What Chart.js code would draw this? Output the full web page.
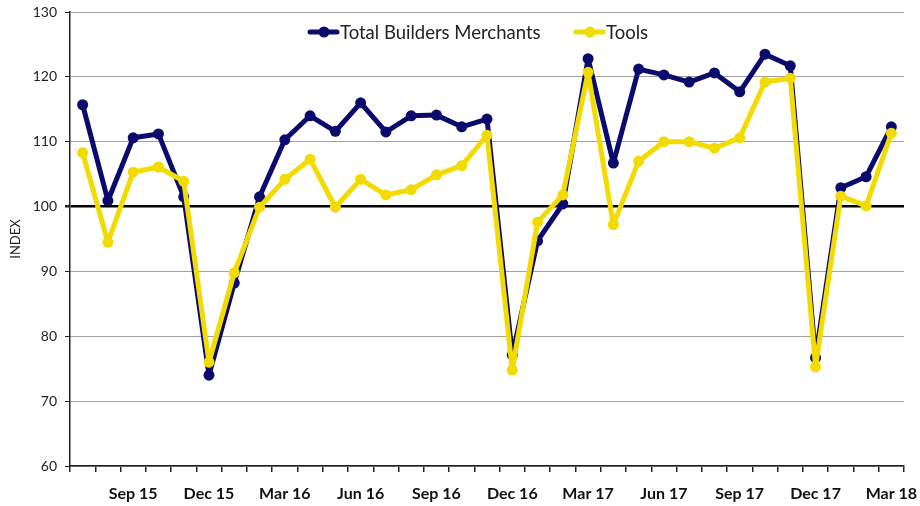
<!DOCTYPE html>
<html>
<head>
<meta charset="utf-8">
<script src="https://cdn.jsdelivr.net/npm/chart.js@4/dist/chart.umd.min.js"></script>
<style>
  html, body { margin: 0; padding: 0; background: #fff; }
  #wrap { width: 920px; height: 506px; }
</style>
</head>
<body>
<div id="wrap"><canvas id="chart" width="920" height="506"></canvas></div>
<script>
// months Jul 15 .. Mar 18
const months = ['Jul 15','Aug 15','Sep 15','Oct 15','Nov 15','Dec 15','Jan 16','Feb 16','Mar 16','Apr 16','May 16','Jun 16',
  'Jul 16','Aug 16','Sep 16','Oct 16','Nov 16','Dec 16','Jan 17','Feb 17','Mar 17','Apr 17','May 17','Jun 17',
  'Jul 17','Aug 17','Sep 17','Oct 17','Nov 17','Dec 17','Jan 18','Feb 18','Mar 18'];
const shownLabels = ['Sep 15','Dec 15','Mar 16','Jun 16','Sep 16','Dec 16','Mar 17','Jun 17','Sep 17','Dec 17','Mar 18'];
const totalBM = [115.7,100.9,110.6,111.2,101.5,74.0,88.2,101.5,110.3,114.0,111.6,116.0,
  111.5,114.0,114.1,112.3,113.5,77.1,94.7,100.4,122.8,106.7,121.2,120.3,
  119.2,120.6,117.7,123.5,121.7,76.7,102.9,104.6,112.3];
const tools = [108.3,94.5,105.3,106.1,103.9,76.0,89.8,99.9,104.2,107.3,99.9,104.2,
  101.8,102.6,104.9,106.3,111.0,74.8,97.6,101.8,120.7,97.2,107.0,110.0,
  110.0,109.0,110.6,119.2,119.8,75.3,101.6,100.1,111.3];
const yTicks = [60,70,80,90,100,110,120,130];

const NAVY = '#0b0b6e';
const YELLOW = '#f2dc00';
const FONT = 'Lato, "Open Sans", sans-serif';

// legend drawn inside the plot, line + dot like the spreadsheet original
const insideLegend = {
  id: 'insideLegend',
  afterDraw(chart) {
    const ctx = chart.ctx;
    const items = [
      { text: 'Total Builders Merchants', color: NAVY, x: 310 },
      { text: 'Tools', color: YELLOW, x: 576 }
    ];
    const y = 32;
    ctx.save();
    ctx.font = '18.5px ' + FONT;
    ctx.textBaseline = 'middle';
    items.forEach(it => {
      ctx.strokeStyle = it.color;
      ctx.lineWidth = 5;
      ctx.lineCap = 'round';
      ctx.beginPath();
      ctx.moveTo(it.x, y);
      ctx.lineTo(it.x + 27, y);
      ctx.stroke();
      ctx.fillStyle = it.color;
      ctx.beginPath();
      ctx.arc(it.x + 14, y, 5.5, 0, Math.PI * 2);
      ctx.fill();
      ctx.fillStyle = '#222';
      ctx.fillText(it.text, it.x + 30, y + 1);
    });
    ctx.restore();
  }
};

const ctx = document.getElementById('chart').getContext('2d');
new Chart(ctx, {
  type: 'line',
  data: {
    labels: months,
    datasets: [
      // index 0 is painted last, so Tools sits on top as in the original
      { label: 'Tools', data: tools, borderColor: YELLOW, backgroundColor: YELLOW,
        borderWidth: 5, pointRadius: 5.5, pointBackgroundColor: YELLOW, pointBorderWidth: 0, tension: 0,
        borderJoinStyle: 'round', borderCapStyle: 'round' },
      { label: 'Total Builders Merchants', data: totalBM, borderColor: NAVY, backgroundColor: NAVY,
        borderWidth: 5, pointRadius: 5.5, pointBackgroundColor: NAVY, pointBorderWidth: 0, tension: 0,
        borderJoinStyle: 'round', borderCapStyle: 'round' }
    ]
  },
  options: {
    responsive: false,
    animation: false,
    layout: { padding: { top: 12, right: 16, left: 0, bottom: 0 } },
    plugins: { legend: { display: false }, tooltip: { enabled: false } },
    scales: {
      x: {
        offset: true,
        grid: { offset: true, drawOnChartArea: false, drawTicks: true, tickLength: 6, color: '#222', lineWidth: 1.5 },
        border: { display: true, color: '#222', width: 1.5 },
        ticks: {
          autoSkip: false, maxRotation: 0, padding: 12,
          font: { family: FONT, size: 16, weight: 'bold' }, color: '#111',
          callback: function (v, i) { const l = months[i]; return shownLabels.includes(l) ? l : ''; }
        },
        afterFit: s => { s.height = 40; s.paddingLeft = 0; s.paddingRight = 0; }
      },
      y: {
        min: 60, max: 130,
        afterBuildTicks: s => { s.ticks = yTicks.map(v => ({ value: v })); },
        grid: {
          color: c => c.tick && c.tick.value === 100 ? '#000' : '#a0a0a0',
          lineWidth: c => c.tick && c.tick.value === 100 ? 2.5 : 1,
          tickLength: 5, tickColor: '#222'
        },
        border: { display: true, color: '#222', width: 1.5 },
        ticks: { padding: 8, font: { family: FONT, size: 14 }, color: '#222' },
        title: { display: true, text: 'INDEX', font: { family: FONT, size: 13 }, color: '#222', padding: { top: 8, bottom: 0 } },
        afterFit: s => { s.width = 70; s.paddingTop = 0; s.paddingBottom = 0; }
      }
    }
  },
  plugins: [insideLegend]
});
</script>
</body>
</html>
